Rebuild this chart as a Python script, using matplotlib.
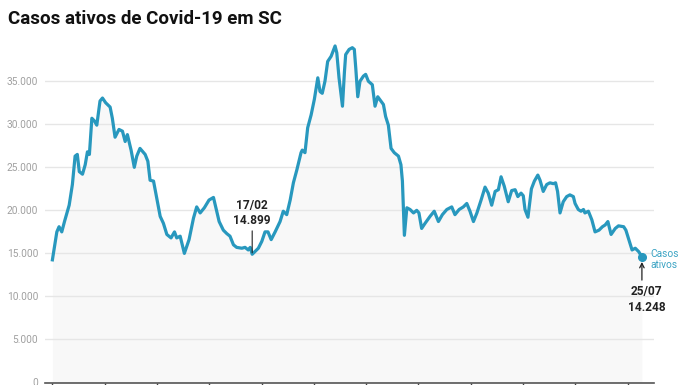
import numpy as np
import matplotlib
matplotlib.use('Agg')
import matplotlib.pyplot as plt
from matplotlib.ticker import FuncFormatter

plt.rcParams['font.family'] = ['Roboto', 'DejaVu Sans']

# Dias desde 28/11/2020 e casos ativos
dias = [0.0, 1.8, 2.7, 3.8, 4.9, 6.8, 8.1, 9.2, 10.1, 10.9, 12.2, 13.3, 14.2, 15.0,
        16.0, 17.0, 18.0, 19.3, 20.3, 21.6, 23.4, 24.3, 25.4, 27.0, 28.4, 29.5, 30.4,
        31.9, 33.2, 34.2, 35.5, 37.6, 38.7, 39.6, 41.0, 42.3, 43.7, 45.0, 46.4, 48.1,
        49.5, 50.4, 51.8, 53.5, 55.4, 57.2, 58.5, 59.9, 61.6, 63.5, 65.3, 66.2, 67.6,
        69.3, 70.7, 72.0, 73.4, 74.7, 76.8, 78.1, 79.4, 80.2, 81.0, 83.5, 84.9, 86.2,
        87.4, 88.7, 90.3, 92.3, 93.6, 95.0, 96.4, 97.7, 99.1, 100.8, 101.3, 102.4,
        103.5, 104.9, 106.2, 107.6, 108.5, 109.4, 110.5, 111.6, 113.0, 114.6, 115.3,
        116.2, 117.6, 118.4, 118.9, 120.3, 121.6, 122.4, 123.0, 123.8, 124.7, 126.1,
        127.0, 128.1, 129.7, 130.8, 131.9, 133.2, 134.2, 135.1, 136.2, 137.3, 138.6,
        140.3, 141.3, 141.9, 142.7, 143.7, 145.0, 146.4, 147.7, 148.6, 149.7, 151.1,
        153.1, 154.8, 156.5, 158.1, 159.9, 161.9, 163.2, 164.9, 166.6, 168.0, 169.3,
        170.7, 172.1, 173.8, 175.4, 176.7, 178.1, 179.5, 180.8, 181.9, 183.2, 184.8,
        186.2, 187.6, 188.7, 190.0, 190.9, 191.6, 192.8, 194.2, 195.4, 196.8, 197.7,
        199.0, 200.4, 201.7, 203.1, 204.0, 204.8, 205.8, 207.1, 208.5, 209.8, 211.2,
        211.9, 213.2, 214.3, 215.3, 215.9, 217.3, 218.7, 220.0, 221.6, 223.0, 224.1,
        225.2, 226.5, 228.2, 229.5, 231.6, 232.5, 233.9, 235.0, 236.3, 237.7, 239.0]
casos = [14250, 17500, 18100, 17500, 18700, 20600, 23000, 26300, 26500, 24500, 24200,
         25300, 26800, 26500, 30700, 30400, 29900, 32700, 33050, 32500, 32000, 30700,
         28500, 29400, 29200, 28000, 28800, 27000, 25000, 26300, 27200, 26500, 25700,
         23500, 23400, 21400, 19300, 18500, 17200, 16800, 17500, 16800, 17000, 15000,
         16600, 19100, 20400, 19700, 20300, 21200, 21500, 20400, 18700, 17700, 17300,
         17000, 16000, 15700, 15600, 15700, 15400, 15700, 14899, 15600, 16400, 17500,
         17500, 16600, 17500, 18700, 19900, 19500, 21200, 23200, 24700, 26700, 27000,
         26700, 29600, 31100, 32900, 35400, 33800, 33600, 35000, 37300, 37900, 39100,
         38300, 35400, 32100, 36100, 38100, 38700, 38900, 38700, 36500, 33200, 35000,
         35600, 35800, 35000, 34600, 32100, 33200, 32700, 32300, 30900, 29900, 27200,
         26700, 26300, 25300, 23400, 17100, 20300, 20100, 19700, 20000, 19700, 17900,
         18500, 19300, 19900, 18700, 19500, 20100, 20400, 19500, 20100, 20400, 20800,
         19900, 18700, 19700, 21200, 22700, 22000, 20600, 22200, 22400, 23900, 22800,
         21000, 22300, 22400, 21600, 22000, 21700, 20100, 19200, 22500, 23400, 24100,
         23500, 22200, 23000, 23200, 23100, 23200, 22200, 19700, 21000, 21600, 21800,
         21600, 20800, 20100, 19900, 20100, 19700, 19900, 18900, 17500, 17700, 18100,
         18300, 18700, 17200, 17900, 18200, 18100, 17700, 16400, 15400, 15600, 15200,
         14600]

y_ticks = [0, 5000, 10000, 15000, 20000, 25000, 30000, 35000]
x_ticks = np.arange(0, 240, 21.2)

cor = '#2898be'

fig = plt.figure(figsize=(6.96, 3.85), dpi=100)
ax = fig.add_axes([45 / 696, 1 - 382.5 / 385, (654 - 45) / 696, (382.5 - 21) / 385])

ax.fill_between(dias, casos, 0, color='#f8f8f8', lw=0, zorder=1)
ax.plot(dias, casos, color=cor, lw=2.3, solid_joinstyle='round', zorder=3)
ax.plot(dias[-1], casos[-1], 'o', color=cor, ms=5.5, zorder=4)

ax.set_xlim(-3.0, 243.9)
ax.set_ylim(0, 42000)
ax.set_yticks(y_ticks)
ax.yaxis.set_major_formatter(FuncFormatter(lambda v, p: f'{int(v):,}'.replace(',', '.')))
ax.set_xticks(x_ticks)
ax.set_xticklabels([])
ax.grid(axis='y', color='#e6e6e6', lw=1, zorder=0)
ax.tick_params(axis='y', length=0, pad=5, labelsize=7.3, labelcolor='#a0a0a0')
ax.tick_params(axis='x', length=3, width=1, color='#444444', direction='out')
for s in ['top', 'right', 'left']:
    ax.spines[s].set_visible(False)
ax.spines['bottom'].set_color('#555555')
ax.spines['bottom'].set_linewidth(1.2)

# anotação do mínimo
ax.annotate('17/02\n14.899', xy=(81.0, 14899), xytext=(81.0, 18100),
            ha='center', va='bottom', fontsize=8.6, fontweight='bold', color='#222222',
            linespacing=1.15,
            arrowprops=dict(arrowstyle='-', color='#222222', lw=0.8, shrinkA=1, shrinkB=1),
            zorder=5)

# anotação final
ax.annotate('', xy=(dias[-1], casos[-1] - 600), xytext=(dias[-1], 11900),
            arrowprops=dict(arrowstyle='->', color='#222222', lw=0.9, mutation_scale=8,
                            shrinkA=0, shrinkB=0))
ax.text(dias[-1] + 1.8, 11300, '25/07\n14.248', ha='center', va='top', fontsize=8.6,
        fontweight='bold', color='#222222', linespacing=1.3)
ax.text(dias[-1] + 3.4, casos[-1] - 300, 'Casos\nativos', ha='left', va='center',
        fontsize=7.3, color='#3aa3c3', linespacing=1.1)

fig.text(8 / 696, 1 - 19.5 / 385, 'Casos ativos de Covid-19 em SC', ha='left', va='center',
         fontsize=13.5, fontweight='bold', color='#111111')

plt.savefig('out.png', dpi=100)
